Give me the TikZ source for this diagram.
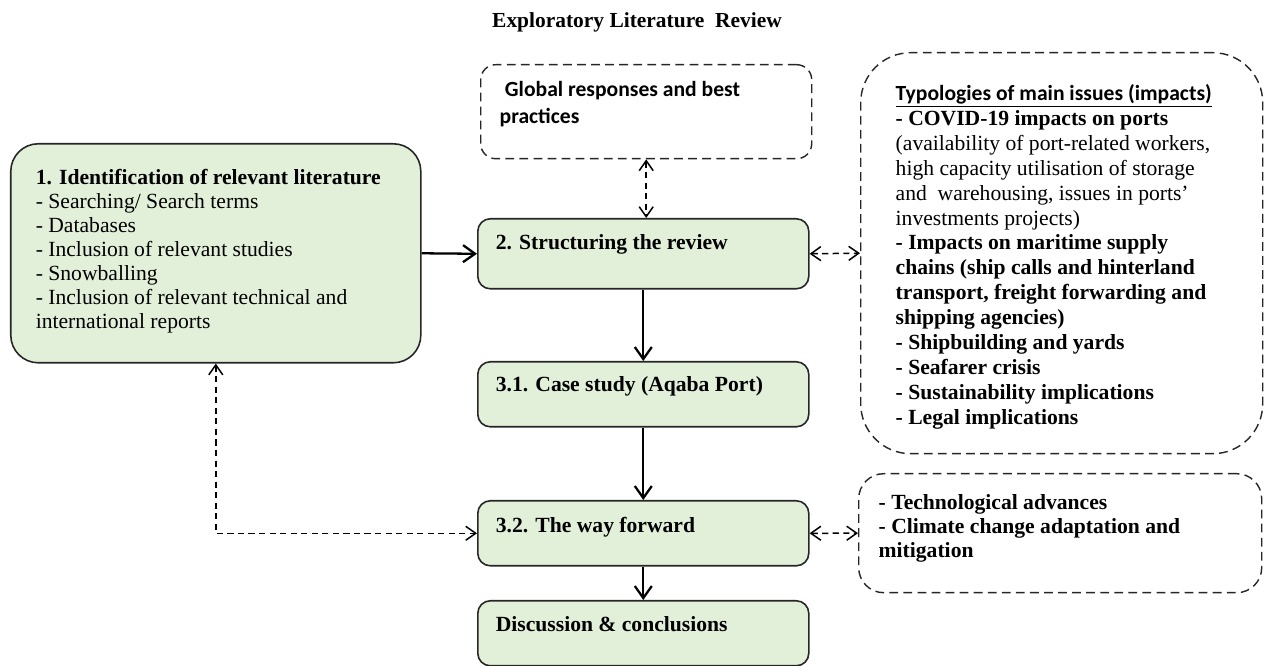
\documentclass[tikz,border=0pt]{standalone}
\usepackage{fontspec}
\setmainfont{Liberation Serif}
\newfontfamily\calib{Carlito}
\usetikzlibrary{arrows.meta}
\definecolor{boxgreen}{HTML}{E2EFD9}
% text block of fixed height, top aligned
\newcommand{\boxtext}[3]{\parbox[c][#1][t]{#2}{\raggedright #3}}

\begin{document}
\begin{tikzpicture}[
    greenbox/.style={draw=black!85, line width=0.9pt, fill=boxgreen,
        rounded corners=#1, anchor=north west, align=left},
    greenbox/.default=0.25cm,
    dashbox/.style={draw=black!85, line width=0.8pt, dash pattern=on 5pt off 3pt,
        rounded corners=#1, anchor=north west, align=left},
    flow/.style={-{Straight Barb[length=2.4mm,width=3.4mm]}, line width=1.3pt},
    link/.style={{Straight Barb[length=2mm,width=2.8mm]}-{Straight Barb[length=2mm,width=2.8mm]},
        line width=0.85pt, dash pattern=on 3.5pt off 2.5pt}]
    \useasboundingbox (0,0) rectangle (25.28,-13.32);
    \def\bw{5.9cm}

    \node[anchor=base, font=\bfseries\fontsize{12.2}{14}\selectfont] (title) at (12.74,-0.56)
        {Exploratory Literature\ \ Review};

    % main column
    \node[greenbox=0.55cm, inner xsep=0.5cm, inner ysep=0.51cm,
        font=\fontsize{12.3}{13.7}\selectfont] (lit) at (0.2,-2.86)
        {\boxtext{3.36cm}{7.2cm}{\textbf{1. Identification of relevant literature}\\
        - Searching/ Search terms\\
        - Databases\\
        - Inclusion of relevant studies\\
        - Snowballing\\
        - Inclusion of relevant technical and\\
        international reports}};
    \node[greenbox, inner xsep=0.36cm, inner ysep=0.31cm,
        font=\bfseries\fontsize{12.3}{13.7}\selectfont] (rev) at (9.54,-4.36)
        {\boxtext{0.78cm}{\bw}{2. Structuring the review}};
    \node[greenbox, inner xsep=0.36cm, inner ysep=0.29cm,
        font=\bfseries\fontsize{12.3}{13.7}\selectfont] (case) at (9.54,-7.22)
        {\boxtext{0.72cm}{\bw}{3.1. Case study (Aqaba Port)}};
    \node[greenbox, inner xsep=0.36cm, inner ysep=0.33cm,
        font=\bfseries\fontsize{12.3}{13.7}\selectfont] (fwd) at (9.54,-10.0)
        {\boxtext{0.64cm}{\bw}{3.2. The way forward}};
    \node[greenbox, inner xsep=0.36cm, inner ysep=0.31cm,
        font=\bfseries\fontsize{12.3}{13.7}\selectfont] (disc) at (9.54,-12.0)
        {\boxtext{0.68cm}{\bw}{Discussion \& conclusions}};

    % dashed side boxes
    \node[dashbox=0.3cm, inner xsep=0.38cm, inner ysep=0.33cm,
        font=\calib\bfseries\fontsize{12.3}{15.4}\selectfont] (glob) at (9.6,-1.28)
        {\boxtext{1.22cm}{5.86cm}{\hspace{3pt}Global responses and best\\ practices}};
    \node[dashbox=1cm, inner xsep=0.7cm, inner ysep=0.63cm,
        font=\fontsize{12.3}{14.2}\selectfont] (typo) at (17.2,-1.04)
        {\boxtext{6.76cm}{6.64cm}{{\calib\bfseries\underline{Typologies of main issues (impacts)}}\\
        \textbf{- COVID-19 impacts on ports}\\
        (availability of port-related workers,\\
        high capacity utilisation of storage\\
        and\ \ warehousing, issues in ports’\\
        investments projects)\\
        \textbf{- Impacts on maritime supply\\
        chains (ship calls and hinterland\\
        transport, freight forwarding and\\
        shipping agencies)\\
        - Shipbuilding and yards\\
        - Seafarer crisis\\
        - Sustainability implications\\
        - Legal implications}}};
    \node[dashbox=0.5cm, inner xsep=0.4cm, inner ysep=0.41cm,
        font=\bfseries\fontsize{12.3}{13.7}\selectfont] (tech) at (17.16,-9.46)
        {\boxtext{1.56cm}{7.26cm}{- Technological advances\\
        - Climate change adaptation and\\
        mitigation}};

    % connectors
    \draw[flow] (lit.east) -- (rev.west);
    \draw[flow] (rev.south) -- (case.north);
    \draw[flow] (case.south) -- (fwd.north);
    \draw[flow] (fwd.south) -- (disc.north);
    \draw[link] (glob.south) -- (glob.south |- rev.north);
    \draw[link] (rev.east) -- (typo.west);
    \draw[link] (fwd.east) -- (tech.west);
    \draw[link] (lit.south) |- (fwd.west);
\end{tikzpicture}
\end{document}
